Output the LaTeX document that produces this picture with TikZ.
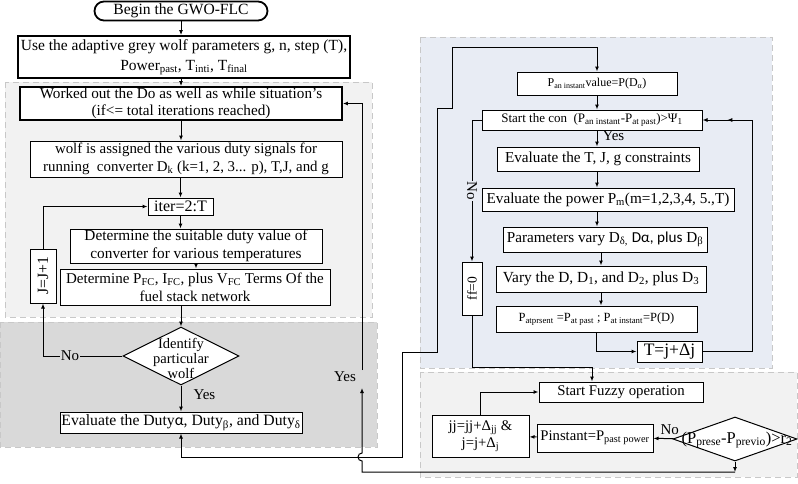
\documentclass[tikz,border=0pt]{standalone}
\usepackage{fontspec}
\setmainfont{Liberation Serif}
\newfontfamily\calib{Carlito}
\usepackage{graphicx}
\usepackage{tikz}
\usetikzlibrary{arrows.meta, calc, positioning, decorations.markings, shapes.geometric}
\usepackage{xcolor}
\definecolor{lightbg}{RGB}{242,242,242}
\definecolor{darkbg}{RGB}{217,217,217}
\definecolor{bluebg}{RGB}{232,236,244}
\definecolor{regionline}{RGB}{200,200,200}
\newcommand{\setfs}[2]{\fontsize{#1}{#2}\selectfont}

\begin{document}
\begin{tikzpicture}[x=1pt, y=-1pt, >={Latex[length=5pt,width=4pt]},
    txt/.style={font=\setfs{15.2}{18}},
    box/.style={draw, fill=white, line width=1pt, align=center, inner sep=0pt, txt},
    boldbox/.style={box, line width=1.8pt},
    decision/.style={draw, fill=white, diamond, line width=1pt, inner sep=0pt},
    region/.style={draw=regionline, dash pattern=on 6pt off 4pt, line width=1pt},
    flow/.style={->, line width=1pt},
    lab/.style={font=\setfs{15}{17}, inner sep=1pt},
    midarrow/.style={decoration={markings, mark=at position 0.5 with {\arrow{>}}}, postaction={decorate}}]
    \useasboundingbox (0,0) rectangle (798,483);

    % 背景
    \draw[region, fill=lightbg] (5,82) rectangle (372,317);
    \draw[region, fill=darkbg] (0,322) rectangle (377,447);
    \draw[region, fill=bluebg] (420,37) rectangle (772,368);
    \draw[region, fill=lightbg] (420,372) rectangle (797,477);

    % GWO 部分
    \node[boldbox, rounded corners=9.5pt, minimum width=173pt, minimum height=19pt, font=\setfs{15.6}{18}] (begin) at (181,11) {Begin the GWO-FLC};
    \node[boldbox, minimum width=332pt, minimum height=42pt, font=\setfs{15.5}{20}] (use) at (184,57)
        {Use the adaptive grey wolf parameters g, n, step (T),\\Power\textsubscript{past}, T\textsubscript{inti}, T\textsubscript{final}};
    \node[boldbox, minimum width=322pt, minimum height=33pt, font=\setfs{15.2}{17.5}] (worked) at (181,103.5)
        {Worked out the Do as well as while situation's\\(if<= total iterations reached)};
    \node[box, minimum width=312pt, minimum height=36pt, font=\setfs{14.9}{18}] (wolf) at (186,159)
        {wolf is assigned the various duty signals for\\running\ \ converter D\textsubscript{k} (k=1, 2, 3... p), T,J, and g};
    \node[box, minimum width=65pt, minimum height=17pt, font=\setfs{16}{17}] (iter) at (180.5,206.5) {iter=2:T};
    \node[box, minimum width=252pt, minimum height=34pt, font=\setfs{15.3}{18}] (suit) at (196,246)
        {Determine the suitable duty value of\\converter for various temperatures};
    \node[box, minimum width=270pt, minimum height=36pt, font=\setfs{15}{18}] (pfc) at (195,287)
        {Determine P\textsubscript{FC}, I\textsubscript{FC}, plus V\textsubscript{FC} Terms Of the\\fuel stack network};
    \node[box, minimum width=26pt, minimum height=54pt, font=\setfs{15.7}{18}] (jinc) at (43,276) {\rotatebox{90}{J=J+1}};
    \node[decision, minimum width=116pt, minimum height=58pt] (ident) at (181,356) {};
    \node[align=center, font=\setfs{14.5}{15}] at (181,358) {Identify\\particular\\wolf};
    \node[box, minimum width=242pt, minimum height=21pt, font=\setfs{15.7}{18}] (eval) at (181,422.5)
        {Evaluate the Duty{\calib α}, Duty\textsubscript{β}, and Duty\textsubscript{δ}};

    % 右侧 部分
    \node[box, minimum width=160pt, minimum height=23pt, font=\setfs{12}{15}] (pinst) at (597,83.5)
        {P\textsubscript{an instant}value=P(D\textsubscript{α})};
    \node[box, minimum width=220pt, minimum height=20pt, font=\setfs{13}{15}] (start) at (592,120)
        {Start the con\ \ (P\textsubscript{an instant}-P\textsubscript{at past})>Ψ\textsubscript{1}};
    \node[box, minimum width=202pt, minimum height=24pt] (evtjg) at (598,159) {Evaluate the T, J, g constraints};
    \node[box, minimum width=252pt, minimum height=23pt] (evpow) at (608,199.5)
        {Evaluate the power P\textsubscript{m}(m=1,2,3,4, 5.,T)};
    \node[box, minimum width=204pt, minimum height=25pt] (param) at (605,239.5)
        {Parameters vary D\textsubscript{δ,} {\calib Dα, plus} D\textsubscript{β}};
    \node[box, minimum width=210pt, minimum height=26pt, font=\setfs{15.4}{17}] (vary) at (601,279)
        {Vary the D, D\textsubscript{1}, and D\textsubscript{2}, plus D\textsubscript{3}};
    \node[box, minimum width=201pt, minimum height=26pt, font=\setfs{12.5}{15}] (patp) at (596.5,319)
        {P\textsubscript{atprsent} =P\textsubscript{at past} ; P\textsubscript{at instant}=P(D)};
    \node[box, minimum width=65pt, minimum height=21pt, font=\setfs{17.5}{18}] (tjd) at (669.5,351.5) {T=j+Δj};
    \node[box, minimum width=20pt, minimum height=53pt, font=\setfs{13.5}{15}] (ff) at (472,288.5) {\rotatebox{90}{ff=0}};

    % 模糊 部分
    \node[box, minimum width=164pt, minimum height=20pt, font=\setfs{14.8}{18}] (fuzzy) at (621,392) {Start Fuzzy operation};
    \node[decision, minimum width=124pt, minimum height=44pt] (cmp) at (735,439) {};
    \node[font=\setfs{16.5}{17}] at (737,440) {(P\textsubscript{prese}-P\textsubscript{previo})>r\textsubscript{2}};
    \node[box, minimum width=116pt, minimum height=28pt, font=\setfs{14.7}{17}] (ppast) at (595,438) {Pinstant=P\textsubscript{past power}};
    \node[box, minimum width=97pt, minimum height=42pt, font=\setfs{14.7}{17}] (jj) at (480.5,436) {jj=jj+Δ\textsubscript{jj} \&\\j=j+Δ\textsubscript{j}};

    % 连线
    \draw[flow] (begin) -- (begin |- use.north);
    \draw[flow] (worked.north |- use.south) -- (worked.north);
    \draw[flow] (worked) -- (worked |- wolf.north);
    \draw[flow] (wolf.south -| iter) -- (iter);
    \draw[flow] (iter) -- (iter |- suit.north);
    \draw[flow] (suit) -- (suit |- pfc.north);
    \draw[flow] (pfc.south -| ident) -- (ident);
    \draw[flow] (ident) -- node[lab, right, pos=0.35, xshift=11pt] {Yes} (eval);
    \draw[flow] (ident) -- node[lab, fill=darkbg, pos=0.66] {No} (jinc |- ident) -- (jinc);
    \draw[flow] (jinc) |- (iter);

    \draw[<->, line width=1pt] (eval) |- (402,457) |- (437,352) -- (437,108) -| (452,47) -| (pinst);

    \coordinate (ret) at (362,472);
    \draw[flow] (cmp) -- (cmp |- ret);
    \draw[flow] (cmp |- ret) -- (ret) -- (362,461) arc[start angle=90, end angle=270, radius=4] -- (362,388);
    \node[lab] (yes2) at (345,377) {Yes};
    \draw[flow] (362,370) |- (worked);

    \draw[flow] (pinst) -- (pinst |- start.north);
    \draw[flow] (start.south -| pinst) -- node[lab, right, pos=0.3, xshift=4pt] {Yes} (pinst |- evtjg.north);
    \draw[flow] (evtjg.south -| pinst) -- (pinst |- evpow.north);
    \draw[flow] (evpow.south -| pinst) -- (pinst |- param.north);
    \draw[flow] (param.south -| vary) -- (vary.north);
    \draw[flow] (vary) -- (vary |- patp.north);
    \draw[flow] (patp) |- (tjd);
    \draw[line width=1pt] (tjd) -| (752,120) coordinate (rt);
    \draw[flow, midarrow] (rt) -- (start);
    \draw[flow] (start) -| node[lab, pos=0.75, rotate=-90, fill=bluebg] {No} (ff);
    \coordinate (fz) at (592,367);
    \draw[flow] (ff) |- (fz) -- (fz |- fuzzy.north);

    \draw[flow] (cmp) -- node[lab, above, pos=0.2, yshift=2pt] {No} (ppast);
    \draw[flow] (ppast) -- (jj);
    \draw[flow] (jj) |- (fuzzy);
\end{tikzpicture}
\end{document}
